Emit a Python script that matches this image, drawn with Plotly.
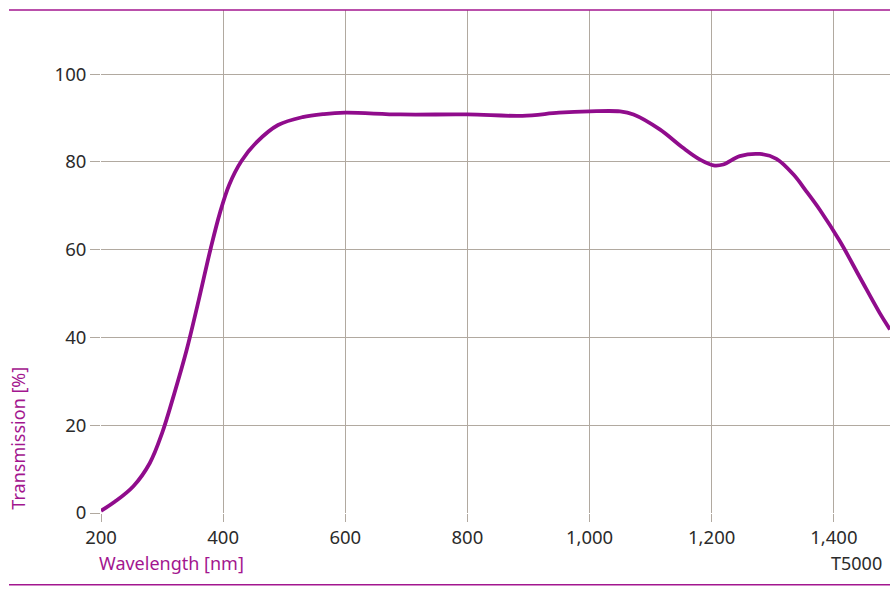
import plotly.graph_objects as go

wavelength_nm = [200, 223, 253, 280, 300, 320, 340, 360, 380, 395, 410, 430, 455, 490, 530,
                 565, 600, 690, 800, 890, 950, 1000, 1050,
                 1072, 1115, 1153, 1181, 1203, 1219, 1246, 1279, 1306, 1334, 1355, 1377,
                 1410, 1443, 1475, 1492]
transmission_pct = [0.5, 2.6, 6.1, 11.4, 18.2, 27.2, 37.0, 48.5, 60.5, 68.5, 74.8, 80.2,
                    84.5, 88.4, 90.2, 90.9, 91.2, 90.8,
                    90.8, 90.5, 91.2, 91.5, 91.5, 90.8, 87.4, 83.2, 80.5, 79.2, 79.4, 81.3,
                    81.8, 80.7, 77.1, 73.3, 69.1, 61.9, 53.6, 45.6, 41.8]

x_ticks = [200, 400, 600, 800, 1000, 1200, 1400]
x_ticklabels = ["200", "400", "600", "800", "1,000", "1,200", "1,400"]
y_ticks = [0, 20, 40, 60, 80, 100]

PURPLE = "#900C8C"
MAGENTA = "#A3168F"
GRID = "#B1A9A0"
TXT = "#2B2B2B"
FONT = "Noto Sans"

fig = go.Figure()
fig.add_trace(go.Scatter(
    x=wavelength_nm, y=transmission_pct, mode="lines",
    line=dict(color=PURPLE, width=3.8, shape="spline", smoothing=1.0),
    hoverinfo="skip", showlegend=False,
))

fig.update_layout(
    width=890, height=593,
    margin=dict(l=101, r=0, t=10, b=80),
    paper_bgcolor="white", plot_bgcolor="white",
    font=dict(family=FONT, size=18, color=TXT),
    xaxis=dict(
        range=[200, 1492], tickvals=x_ticks, ticktext=x_ticklabels,
        showgrid=True, gridcolor=GRID, gridwidth=1.3,
        ticks="outside", ticklen=8, tickcolor=GRID, tickwidth=1.3,
        zeroline=False, showline=False, fixedrange=True,
        tickfont=dict(family=FONT, size=18.5, color=TXT),
    ),
    yaxis=dict(
        range=[0, 114.6], tickvals=y_ticks,
        showgrid=True, gridcolor=GRID, gridwidth=1.3,
        ticks="outside", ticklen=10, tickcolor=GRID, tickwidth=1.3,
        zeroline=False, showline=False, fixedrange=True,
        tickfont=dict(family=FONT, size=18.5, color=TXT),
    ),
    shapes=[
        dict(type="line", xref="paper", yref="paper", x0=-0.1166, x1=1.0, y0=1.0, y1=1.0,
             line=dict(color=MAGENTA, width=1.5)),
        dict(type="line", xref="paper", yref="paper", x0=-0.1166, x1=1.0, y0=-0.1425, y1=-0.1425,
             line=dict(color=MAGENTA, width=1.5)),
    ],
    annotations=[
        dict(text="Wavelength [nm]", xref="paper", yref="paper", x=-0.005, y=-0.0994,
             xanchor="left", yanchor="middle", showarrow=False,
             font=dict(family=FONT, size=18, color=MAGENTA)),
        dict(text="T5000", xref="paper", yref="paper", x=0.9924, y=-0.0994,
             xanchor="right", yanchor="middle", showarrow=False,
             font=dict(family=FONT, size=18, color=TXT)),
        dict(text="Transmission [%]", xref="paper", yref="paper", x=-0.105, y=0.002,
             xanchor="center", yanchor="bottom", textangle=-90, showarrow=False,
             font=dict(family=FONT, size=18, color=MAGENTA)),
    ],
)

fig.write_html(
    "out.html",
    config={"displayModeBar": False},
    post_script="document.body.style.margin='0';document.body.style.overflow='hidden';",
)
